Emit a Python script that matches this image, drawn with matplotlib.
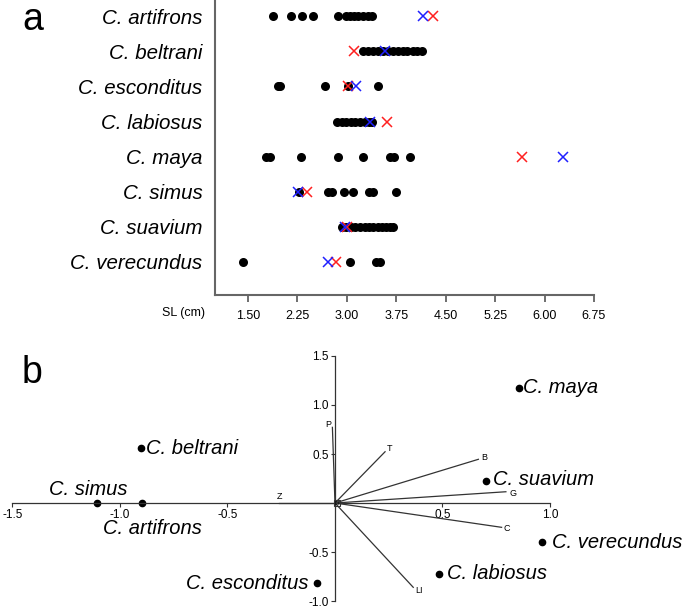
import matplotlib.pyplot as plt

plt.rcParams['font.family'] = ['Liberation Sans', 'DejaVu Sans']

# ---- panel a: SL (cm) per species ----
species = ['C. artifrons', 'C. beltrani', 'C. esconditus', 'C. labiosus',
           'C. maya', 'C. simus', 'C. suavium', 'C. verecundus']

sl_dots = [
    [1.88, 2.15, 2.32, 2.49, 2.87, 2.99, 3.05, 3.11, 3.17, 3.24, 3.32, 3.38],
    [3.25, 3.32, 3.40, 3.47, 3.55, 3.62, 3.70, 3.78, 3.85, 3.92, 4.00, 4.07, 4.14],
    [1.95, 1.99, 2.67, 3.02, 3.48],
    [2.85, 2.92, 2.99, 3.06, 3.13, 3.20, 3.27, 3.33, 3.38],
    [1.78, 1.84, 2.30, 2.87, 3.24, 3.65, 3.71, 3.96],
    [2.27, 2.72, 2.78, 2.95, 3.10, 3.33, 3.39, 3.74],
    [2.92, 2.98, 3.07, 3.13, 3.20, 3.27, 3.33, 3.40, 3.47, 3.53, 3.60, 3.66, 3.70],
    [1.43, 3.05, 3.45, 3.51],
]
sl_red = [4.30, 3.11, 3.02, 3.61, 5.66, 2.40, 3.00, 2.84]
sl_blue = [4.15, 3.58, 3.14, 3.35, 6.28, 2.26, 2.97, 2.72]
sl_ticks = [1.50, 2.25, 3.00, 3.75, 4.50, 5.25, 6.00, 6.75]

# ---- panel b: ordination ----
pca_species = ['C. maya', 'C. suavium', 'C. verecundus', 'C. labiosus',
               'C. esconditus', 'C. beltrani', 'C. simus', 'C. artifrons']
pca_x = [0.856, 0.702, 0.964, 0.485, -0.085, -0.904, -1.108, -0.896]
pca_y = [1.176, 0.228, -0.401, -0.724, -0.820, 0.558, 0.0, 0.0]

vec_names = ['P', 'T', 'B', 'G', 'C', 'LI', 'Z']
vec_x = [-0.012, 0.233, 0.667, 0.795, 0.775, 0.364, -0.26]
vec_y = [0.772, 0.523, 0.446, 0.115, -0.248, -0.860, 0.0]

W, H = 685, 608
fig = plt.figure(figsize=(W / 100, H / 100), dpi=100)


def px_axes(l, t, r, b):
    return fig.add_axes([l / W, 1 - b / H, (r - l) / W, (b - t) / H])


# panel a
ax1 = px_axes(215, 0, 594, 295)
rows = list(range(1, len(species) + 1))
for r, vals in zip(rows, sl_dots):
    ax1.plot(vals, [r] * len(vals), 'o', color='black', ms=6.5, mew=0)
ax1.plot(sl_red, rows, 'x', color='#ff2020', ms=7, mew=1.1)
ax1.plot(sl_blue, rows, 'x', color='#2020ff', ms=7, mew=1.1)

ax1.set_xlim(1.0, 6.75)
ax1.set_ylim(8.94, 0.54)
ax1.set_xticks(sl_ticks)
ax1.set_xticklabels(['%.2f' % t for t in sl_ticks], fontsize=9)
ax1.set_yticks(rows)
ax1.set_yticklabels(species, fontsize=14.8, style='italic')
ax1.tick_params(axis='y', length=0, pad=9)
ax1.tick_params(axis='x', length=5, width=1.2, color='#555555', pad=6)
for s in ['top', 'right']:
    ax1.spines[s].set_visible(False)
for s in ['left', 'bottom']:
    ax1.spines[s].set_color('#666666')
    ax1.spines[s].set_linewidth(1.5)
fig.text(205 / W, 1 - 313 / H, 'SL (cm)', ha='right', va='center', fontsize=9)
fig.text(22 / W, 1 - 20 / H, 'a', ha='left', va='center', fontsize=27)

# panel b
ax2 = px_axes(0, 345, 685, 608)
ax2.set_xlim(-1.558, 1.628)
ax2.set_ylim(-1.071, 1.612)
for s in ['top', 'right']:
    ax2.spines[s].set_visible(False)
ax2.spines['left'].set_position(('data', 0))
ax2.spines['bottom'].set_position(('data', 0))
ax2.spines['left'].set_bounds(-1.0, 1.5)
ax2.spines['bottom'].set_bounds(-1.5, 1.0)
for s in ['left', 'bottom']:
    ax2.spines[s].set_color('#333333')
    ax2.spines[s].set_linewidth(0.9)
xt = [-1.5, -1.0, -0.5, 0.5, 1.0]
yt = [1.5, 1.0, 0.5, -0.5, -1.0]
ax2.set_xticks(xt)
ax2.set_xticklabels(['%.1f' % t for t in xt], fontsize=8.5)
ax2.set_yticks(yt)
ax2.set_yticklabels(['%.1f' % t for t in yt], fontsize=8.5)
ax2.tick_params(length=3, width=0.8, color='#333333', pad=1.5)

for name, vx, vy in zip(vec_names, vec_x, vec_y):
    ax2.plot([0, vx], [0, vy], color='#333333', lw=0.9)
label_off = {'P': (-3, 2), 'T': (3, 2), 'B': (4, 1), 'G': (5, -1),
             'C': (4, -1), 'LI': (4, -2), 'Z': (0, 5)}
for name, vx, vy in zip(vec_names, vec_x, vec_y):
    dx, dy = label_off[name]
    ax2.annotate(name, (vx, vy), xytext=(dx, dy), textcoords='offset points',
                 ha='center', va='center', fontsize=6.5)
ax2.plot([0.01], [0], 's', ms=5, mfc='none', mec='#333333', mew=0.8)
ax2.annotate('D', (0.01, 0), xytext=(0, 0), textcoords='offset points',
             ha='center', va='center', fontsize=4.5)

ax2.plot(pca_x, pca_y, 'o', color='black', ms=4.5)
sp_off = {'C. maya': (3, 0, 'left'), 'C. suavium': (5, 1, 'left'),
          'C. verecundus': (7, 0, 'left'), 'C. labiosus': (5.5, 0, 'left'),
          'C. esconditus': (-6, 0, 'right'), 'C. beltrani': (4, 0, 'left'),
          'C. simus': (-6, 10, 'center'), 'C. artifrons': (7, -18, 'center')}
for name, px, py in zip(pca_species, pca_x, pca_y):
    dx, dy, ha = sp_off[name]
    ax2.annotate(name, (px, py), xytext=(dx, dy), textcoords='offset points',
                 ha=ha, va='center', fontsize=14.5, style='italic')
fig.text(22 / W, 1 - 373 / H, 'b', ha='left', va='center', fontsize=27)

fig.savefig('out.png', dpi=100)
